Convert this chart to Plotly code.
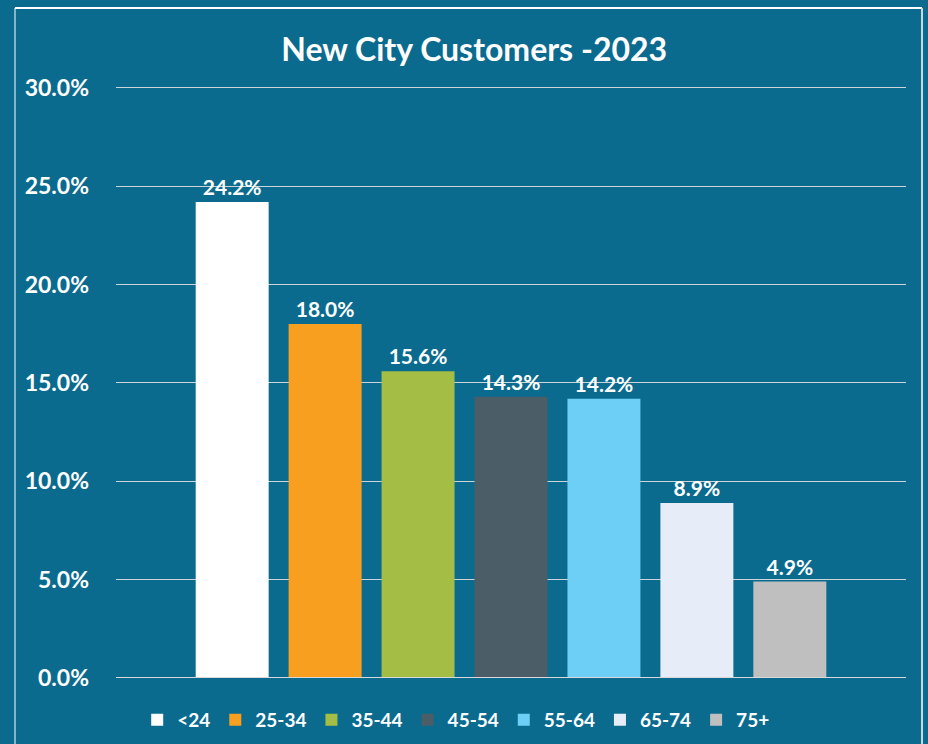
import plotly.graph_objects as go

categories = ["<24", "25-34", "35-44", "45-54", "55-64", "65-74", "75+"]
values = [0.242, 0.180, 0.156, 0.143, 0.142, 0.089, 0.049]
colors = ["#FFFFFF", "#F89F1F", "#A4BE45", "#4B5D67", "#6DCFF6", "#E7EDF8", "#BFBFBF"]
title_text = "New City Customers -2023"

BG = "#0A6B8F"
FONT = "Lato"

fig = go.Figure()
for i, (cat, val, col) in enumerate(zip(categories, values, colors)):
    fig.add_trace(go.Bar(
        x=[i], y=[val], name=cat, width=0.785,
        marker=dict(color=col, line=dict(width=0)),
        text=[f"{val*100:.1f}%"], textposition="outside",
        textfont=dict(color="white", size=21, family=FONT, weight="bold"),
        cliponaxis=False,
    ))

fig.update_layout(
    width=928, height=744,
    paper_bgcolor=BG, plot_bgcolor=BG,
    margin=dict(l=116, r=22, t=84, b=66, autoexpand=False),
    barmode="overlay",
    title=dict(text=title_text, x=0.511, xanchor="center", y=0.933, yanchor="middle",
               font=dict(color="white", size=32, family=FONT, weight="bold")),
    font=dict(family=FONT, color="white"),
    xaxis=dict(range=[-1.25, 7.25], showticklabels=False, showgrid=False,
               zeroline=False, showline=False, ticks=""),
    yaxis=dict(range=[0, 0.302], tickvals=[0, 0.05, 0.10, 0.15, 0.20, 0.25, 0.30],
               tickformat=".1%",
               showgrid=True, gridcolor="#CBD5DA", gridwidth=1,
               zeroline=False, showline=False, ticks="",
               ticklabelstandoff=26,
               tickfont=dict(color="white", size=23, family=FONT, weight="bold")),
    legend=dict(orientation="h", x=0.43, xanchor="center",
                yref="container", y=1 - 720 / 744, yanchor="middle",
                font=dict(color="white", size=19, family=FONT, weight="bold"),
                bgcolor="rgba(0,0,0,0)", itemclick=False),
    showlegend=True,
)

# zero baseline
fig.add_shape(type="line", xref="paper", yref="y", x0=0, x1=1, y0=0, y1=0,
              line=dict(color="#D9D9D9", width=2), layer="above")

# outer frame (paper coords relative to plot area)
fx0, fx1 = (15 - 116) / 790, (922 - 116) / 790
fy1, fy0 = (678 - 8) / 594, (678 - 760) / 594
fig.add_shape(type="line", xref="paper", yref="paper", x0=fx0, x1=fx0, y0=fy1, y1=fy0,
              line=dict(color="white", width=1))
fig.add_shape(type="line", xref="paper", yref="paper", x0=fx0, x1=fx1, y0=fy1, y1=fy1,
              line=dict(color="white", width=2))
fig.add_shape(type="line", xref="paper", yref="paper", x0=fx1, x1=fx1, y0=fy1, y1=fy0,
              line=dict(color="#C8D8E0", width=2))

fig.write_html("out.html", config={"displayModeBar": False},
               post_script="document.body.style.margin='0';document.body.style.background='%s';" % BG)
